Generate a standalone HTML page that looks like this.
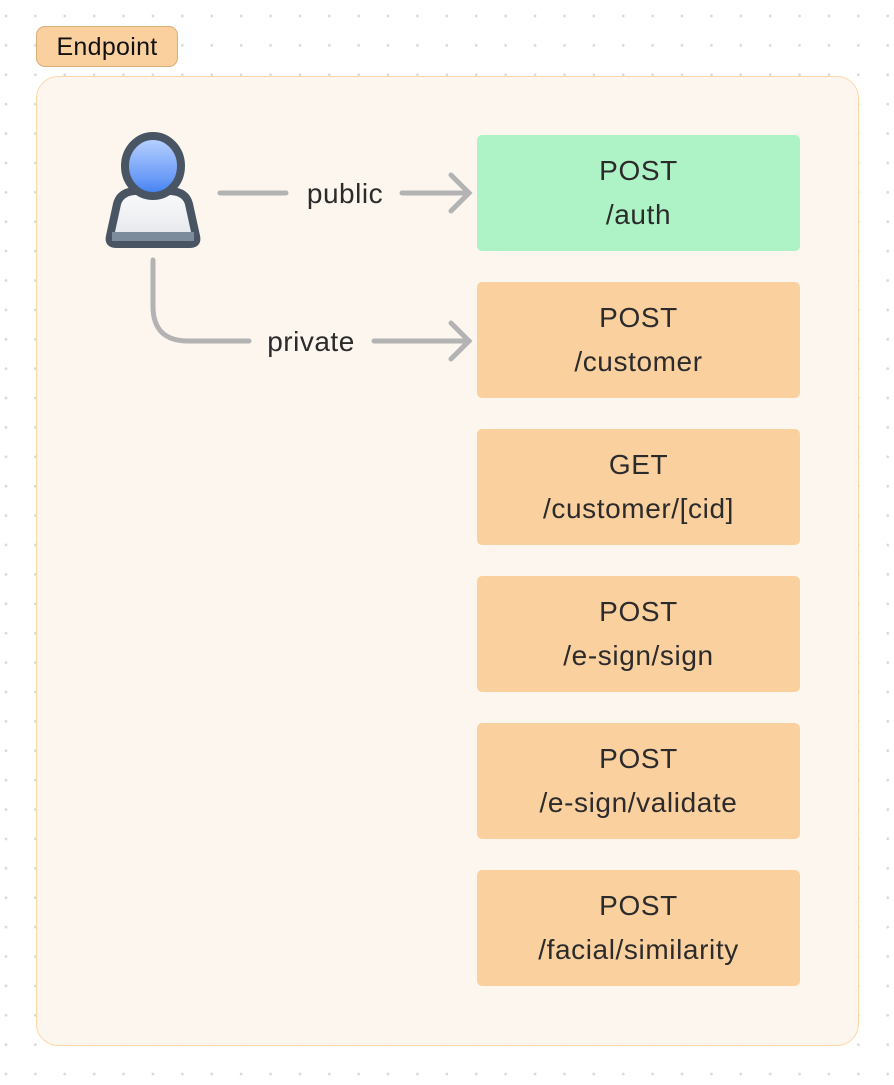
<!DOCTYPE html>
<html><head><style>
html,body{margin:0;padding:0}
body{width:894px;height:1085px;position:relative;overflow:hidden;background-color:#fff;
background-image:radial-gradient(circle,#dadada 1.3px,transparent 1.6px);background-size:29.4px 29.4px;background-position:-8.7px 1.3px;font-family:"Liberation Sans",sans-serif}
.lab{position:absolute;left:36px;top:26px;width:140px;height:39px;background:#fad09f;border:1px solid #dbae78;border-radius:9px;font-size:25px;line-height:40px;text-align:center;color:#111;letter-spacing:0.3px}
.cont{position:absolute;left:36px;top:76px;width:821px;height:968px;background:#fdf6ef;border:1.5px solid #fdd8a6;border-radius:22px}
.box{position:absolute;left:477px;width:323px;height:116px;background:#fbd09f;border-radius:5px;text-align:center;color:#2b2b2b;font-size:28px;letter-spacing:0.6px;line-height:44px;box-sizing:border-box;padding-top:14px}
.g{background:#aef3c6}
svg{position:absolute;left:0;top:0}
</style></head><body>
<div class="lab">Endpoint</div>
<div class="cont"></div>
<div class="box g" style="top:135px">POST<br>/auth</div>
<div class="box" style="top:282px">POST<br>/customer</div>
<div class="box" style="top:429px">GET<br>/customer/[cid]</div>
<div class="box" style="top:576px">POST<br>/e-sign/sign</div>
<div class="box" style="top:723px">POST<br>/e-sign/validate</div>
<div class="box" style="top:870px">POST<br>/facial/similarity</div>
<svg width="894" height="1085">
<defs>
<linearGradient id="hd" x1="0" y1="0" x2="0" y2="1"><stop offset="0" stop-color="#bcd4ff"/><stop offset="0.7" stop-color="#6b9cf7"/><stop offset="1" stop-color="#3b7cf0"/></linearGradient>
<linearGradient id="bd" x1="0" y1="0" x2="0" y2="1"><stop offset="0" stop-color="#fafbfc"/><stop offset="1" stop-color="#e2e5e9"/></linearGradient>
</defs>
<path d="M110 236 L117 204 Q120 192 135 191 L171 191 Q186 192 189 204 L196 236 Q198 244 190 244 L116 244 Q108 244 110 236Z" fill="url(#bd)" stroke="#4a5563" stroke-width="8"/>
<rect x="112" y="232" width="82" height="9" fill="#7d8c9c"/>
<ellipse cx="153" cy="166" rx="28" ry="30" fill="url(#hd)" stroke="#4a5563" stroke-width="8"/>
<g stroke="#b3b3b3" stroke-width="5" stroke-linecap="round" fill="none">
<line x1="220" y1="193" x2="286" y2="193"/>
<line x1="402" y1="193" x2="469" y2="193"/>
<polyline points="451,175 469,193 451,211"/>
<path d="M153 260 L153 306 Q153 341 188 341 L249 341"/>
<line x1="374" y1="341" x2="469" y2="341"/>
<polyline points="451,323 469,341 451,359"/>
</g>
<g font-family="Liberation Sans,sans-serif" font-size="28" fill="#2b2b2b" text-anchor="middle" letter-spacing="0.5">
<text x="345" y="203">public</text>
<text x="311" y="351">private</text>
</g>
</svg>
</body></html>
